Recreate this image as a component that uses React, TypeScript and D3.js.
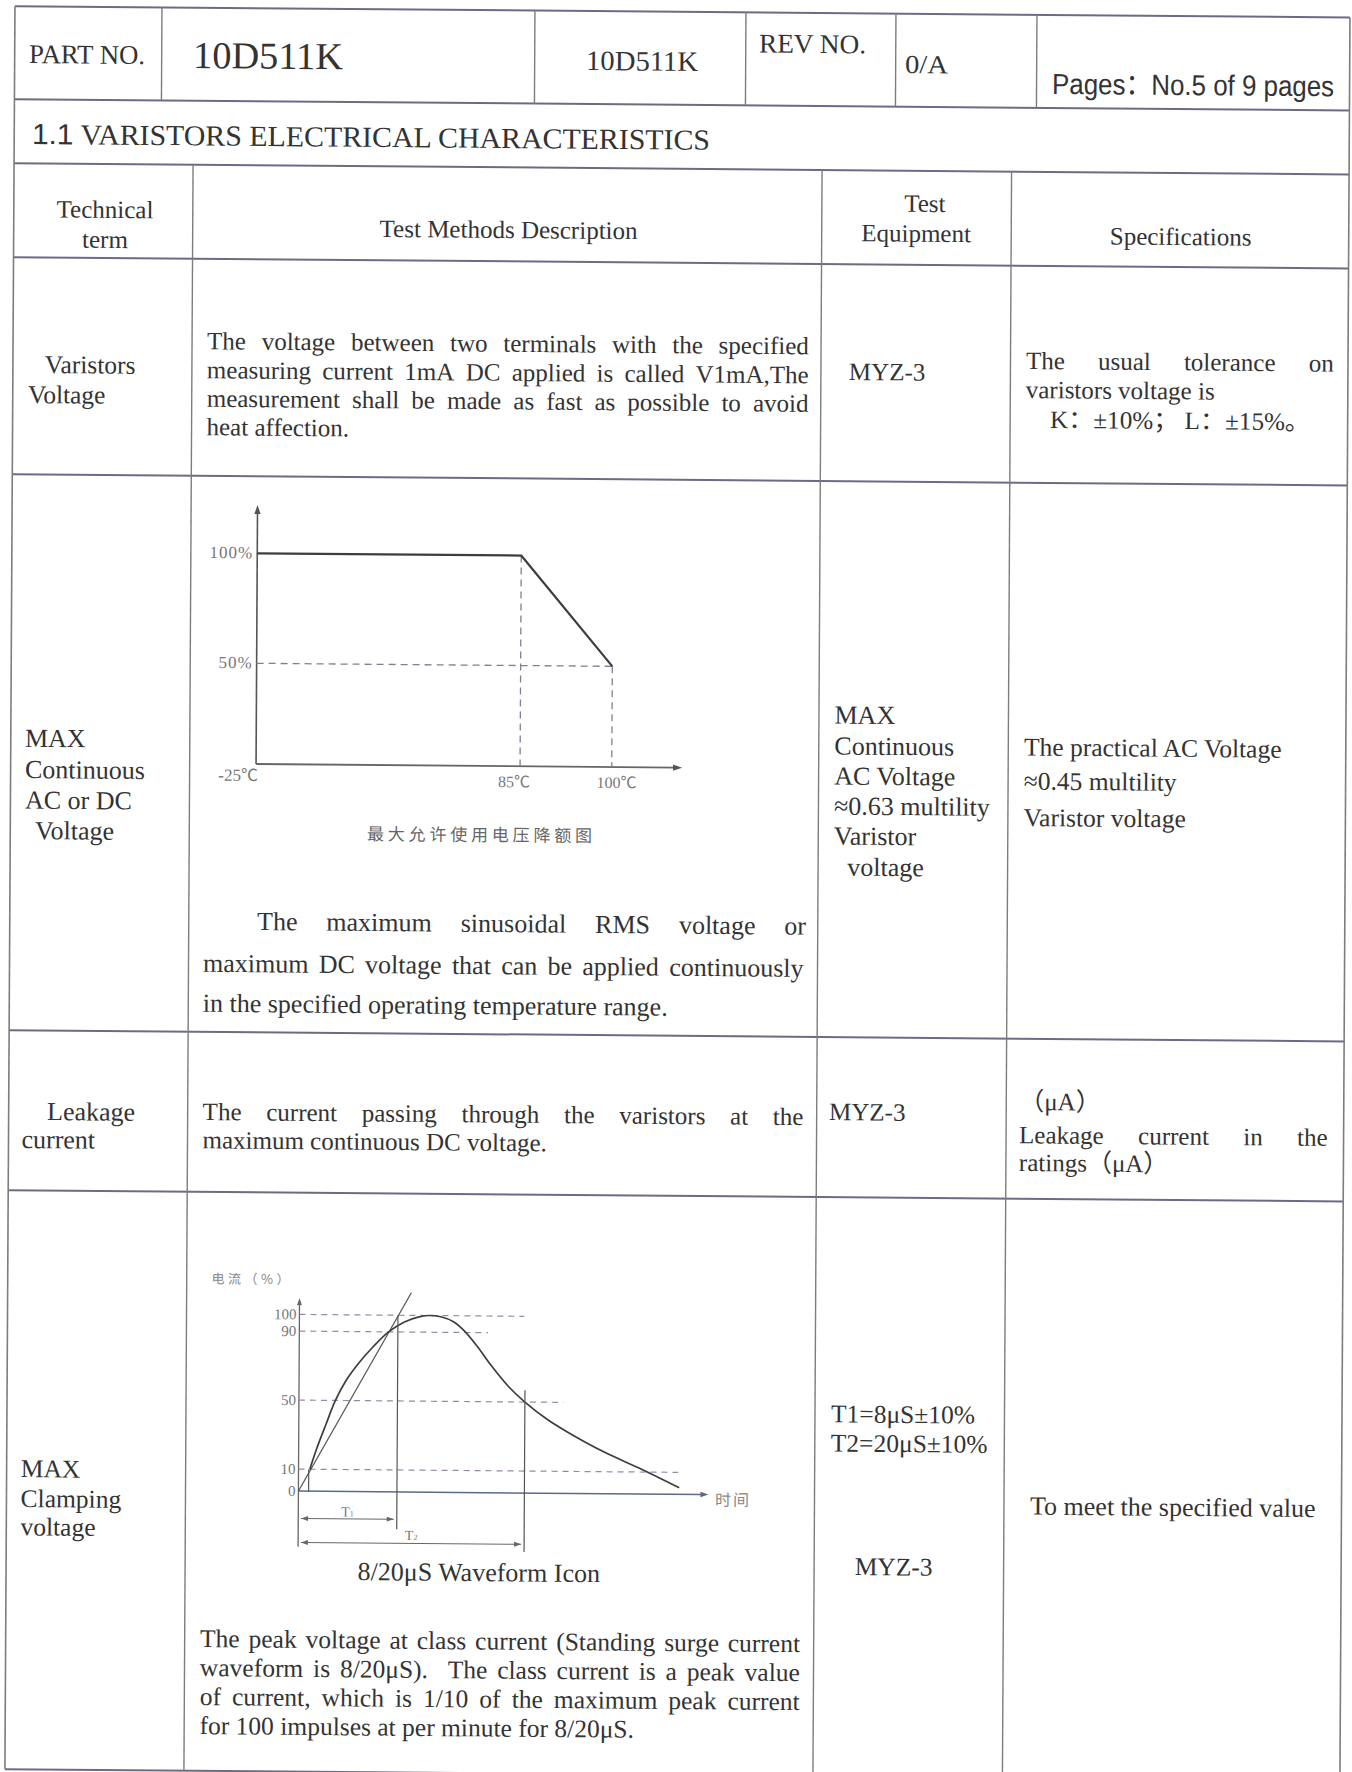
import React from 'react';
import * as d3 from 'd3';

const SERIF = "'Liberation Serif', 'Noto Sans CJK SC', serif";
const SANS = "'Liberation Sans', 'Noto Sans CJK SC', sans-serif";
const CJK = "'Noto Sans CJK SC', sans-serif";
const INK = '#333';
const FAINT = '#777';

// ---- text content ----
const partNo = '10D511K';
const revLabel = 'REV NO.';
const revNo = '0/A';
const pagesLabel = 'Pages：No.5 of 9 pages';
const sectionNo = '1.1';
const sectionTitle = ' VARISTORS ELECTRICAL CHARACTERISTICS';
const colHeads = [['Technical', 'term'], ['Test Methods Description'], ['Test', 'Equipment'], ['Specifications']];
const terms = [['Varistors', 'Voltage'], ['MAX', 'Continuous', 'AC or DC', 'Voltage'], ['Leakage', 'current'], ['MAX', 'Clamping', 'voltage']];

const row1Desc = [
  'The voltage between two terminals with the specified',
  'measuring current 1mA DC applied is called V1mA,The',
  'measurement shall be made as fast as possible to avoid',
  'heat affection.',
];
const equipName = 'MYZ-3';
const row1Spec = ['The usual tolerance on', 'varistors voltage is', 'K：±10%；  L：±15%。'];
const row2Desc = [
  'The maximum sinusoidal RMS voltage or',
  'maximum DC voltage that can be applied continuously',
  'in the specified operating temperature range.',
];
const row2Equip = ['MAX', 'Continuous', 'AC Voltage', '≈0.63  multility', 'Varistor', 'voltage'];
const row2Spec = ['The practical AC Voltage', '≈0.45 multility', 'Varistor voltage'];
const row3Desc = ['The current passing through the varistors at the', 'maximum continuous DC voltage.'];
const row3Spec = ['（μA）', 'Leakage current in the', 'ratings（μA）'];
const row4Desc = [
  'The peak voltage at class current (Standing surge current',
  'waveform is 8/20μS).  The class current is a peak value',
  'of current, which is 1/10 of the maximum peak current',
  'for 100 impulses at per minute for 8/20μS.',
];
const row4Equip = ['T1=8μS±10%', 'T2=20μS±10%'];
const row4Spec = 'To meet the specified value';

// ---- derating chart data ----
const derateTemp = [-25, 85, 100];
const deratePct = [100, 100, 50];
const derateTempLabels = ['-25℃', '85℃', '100℃'];
const deratePctTicks = [100, 50];
const derateCaption = '最大允许使用电压降额图';

// ---- 8/20 waveform data (time in µs, current in %) ----
const waveTime = [1.0, 1.6, 2.4, 3.23, 4.2, 5.3, 6.5, 7.9, 9.3, 10.5, 11.4, 12.5, 13.6, 14.6, 15.7, 17.0, 18.6, 20.0, 22.0, 24.0, 27.0, 30.4, 33.7];
const wavePct = [10, 22, 36, 50, 62, 72, 81, 90, 96, 99, 100, 99.3, 96.5, 91, 82.5, 71, 58.5, 50, 40, 32, 21.5, 11.5, 3];
const waveLevels = [0, 10, 50, 90, 100];
const levelDashEnd = [0, 33.6, 23.4, 16.7, 19.9];
const tangentTime = [0, 9.9];
const tangentPct = [0, 113.6];
const startTime = 0.9;
const t1Time = 8.72;
const t2Time = 20;
const t2TopPct = 56.8;
const waveAxisMax = 36.2;
const waveCaption = '8/20μS Waveform Icon';

// ---- layout ----
const ROWS = [6, 99, 163, 257, 474, 1030, 1190, 1769];
const HEAD_COLS = [162, 535, 746, 896, 1037];
const BODY_COLS = [194, 823, 1012.5];
const LEFT = 15;
const RIGHT = 1350;

const mctx = document.createElement('canvas').getContext('2d');
function textWidth(s: string, size: number, family: string) {
  if (!mctx) return s.length * size * 0.45;
  mctx.font = `${size}px ${family}`;
  return mctx.measureText(s).width;
}

function Txt({ x, y, size = 25, family = SERIF, anchor = 'start', fill = INK, len, ls, children }: any) {
  return (
    <text x={x} y={y} fontSize={size} fontFamily={family} textAnchor={anchor} fill={fill}
      textLength={len} lengthAdjust={len ? 'spacingAndGlyphs' : undefined} letterSpacing={ls}>
      {children}
    </text>
  );
}

// justified line: words spread between x and x2
function JLine({ text, x, x2, y, size = 25, family = SERIF }: any) {
  const words = text.split(' ');
  const widths = words.map((w: string) => textWidth(w, size, family));
  const total = widths.reduce((a: number, b: number) => a + b, 0);
  const gap = words.length > 1 ? (x2 - x - total) / (words.length - 1) : 0;
  let cx = x;
  return (
    <text y={y} fontSize={size} fontFamily={family} fill={INK}>
      {words.map((w: string, i: number) => {
        const el = <tspan key={i} x={cx}>{w}</tspan>;
        cx += widths[i] + gap;
        return el;
      })}
    </text>
  );
}

function Arrow({ x, y, dir, size = 8, fill = '#555' }: any) {
  let d = '';
  if (dir === 'up') d = `M${x},${y} L${x - size * 0.35},${y + size} L${x + size * 0.35},${y + size} Z`;
  if (dir === 'right') d = `M${x},${y} L${x - size},${y - size * 0.35} L${x - size},${y + size * 0.35} Z`;
  if (dir === 'left') d = `M${x},${y} L${x + size},${y - size * 0.35} L${x + size},${y + size * 0.35} Z`;
  return <path d={d} fill={fill} />;
}

function DeratingChart() {
  const u0 = 260.4;
  const v0 = 761.8;
  const x = d3.scaleLinear().domain(derateTemp).range([u0, u0 + 264, u0 + 355.7]);
  const y = d3.scaleLinear().domain([0, 50, 100]).range([v0, v0 - 100.7, v0 - 210.7]);
  const path = d3.line<number>().x((_, i) => x(derateTemp[i])).y((d) => y(d))(deratePct) || '';
  const dash = '7,5';
  const dashColor = '#857c92';
  return (
    <g>
      <line x1={u0} y1={v0} x2={u0} y2={v0 - 255} stroke="#555" strokeWidth={1.6} />
      <Arrow x={u0} y={v0 - 259} dir="up" size={9} />
      <line x1={u0} y1={v0} x2={u0 + 420} y2={v0} stroke="#666" strokeWidth={1.8} />
      <Arrow x={u0 + 426} y={v0} dir="right" size={9} />
      <line x1={u0} x2={x(100)} y1={y(50)} y2={y(50)} stroke={dashColor} strokeWidth={1.3} strokeDasharray={dash} />
      <line x1={x(85)} x2={x(85)} y1={y(100)} y2={v0} stroke={dashColor} strokeWidth={1.3} strokeDasharray={dash} />
      <line x1={x(100)} x2={x(100)} y1={y(50)} y2={v0} stroke={dashColor} strokeWidth={1.3} strokeDasharray={dash} />
      <path d={path} fill="none" stroke="#3d3d3d" strokeWidth={2.2} strokeLinejoin="round" />
      {deratePctTicks.map((p) => (
        <Txt key={p} x={u0 - 4} y={y(p) + 5} size={17} anchor="end" fill={FAINT} ls={1}>{`${p}%`}</Txt>
      ))}
      <Txt x={u0 + 2} y={v0 + 17} size={17} anchor="end" fill={FAINT}>{derateTempLabels[0]}</Txt>
      <Txt x={x(85) - 6} y={v0 + 21} size={16} anchor="middle" fill={FAINT}>{derateTempLabels[1]}</Txt>
      <Txt x={x(100) + 5} y={v0 + 21} size={16} anchor="middle" fill={FAINT}>{derateTempLabels[2]}</Txt>
      <Txt x={371.8} y={836.9} size={17} family={CJK} fill="#666" ls={3.8}>{derateCaption}</Txt>
    </g>
  );
}

function WaveformChart() {
  const u0 = 306.9;
  const v0 = 1488.5;
  const x = d3.scaleLinear().domain([0, waveAxisMax]).range([u0, u0 + 409]);
  const y = d3.scaleLinear().domain(waveLevels).range([v0, v0 - 22, v0 - 91, v0 - 160, v0 - 176.7]);
  const curve = d3.line<number>().x((_, i) => x(waveTime[i])).y((d) => y(d)).curve(d3.curveCatmullRom.alpha(0.5))(wavePct) || '';
  const tangent = d3.line<number>().x((_, i) => x(tangentTime[i])).y((d) => y(d))(tangentPct) || '';
  const dashColor = '#9a86a6';
  const grey = '#666';
  return (
    <g>
      <line x1={u0} y1={v0 + 55.7} x2={u0} y2={v0 - 188} stroke={grey} strokeWidth={1.3} />
      <Arrow x={u0} y={v0 - 193} dir="up" size={7} fill={grey} />
      <line x1={u0} y1={v0} x2={u0 + 404} y2={v0} stroke="#5a6a8a" strokeWidth={1.5} />
      <Arrow x={u0 + 410} y={v0} dir="right" size={8} fill="#5a6a8a" />
      {waveLevels.map((lv, i) =>
        lv === 0 ? null : (
          <line key={lv} x1={u0} x2={x(levelDashEnd[i])} y1={y(lv)} y2={y(lv)} stroke={dashColor}
            strokeWidth={1.2} strokeDasharray="6,5" />
        ),
      )}
      {waveLevels.map((lv) => (
        <Txt key={lv} x={u0 - 3} y={y(lv) + 5} size={15} anchor="end" fill={FAINT}>{String(lv)}</Txt>
      ))}
      <path d={tangent} fill="none" stroke="#555" strokeWidth={1.1} />
      <path d={curve} fill="none" stroke="#3d3d3d" strokeWidth={1.7} />
      <line x1={x(startTime)} x2={x(startTime)} y1={y(0)} y2={y(10)} stroke="#555" strokeWidth={1.2} />
      <line x1={x(t1Time)} x2={x(t1Time)} y1={y(100)} y2={v0 + 37.3} stroke="#555" strokeWidth={1.2} />
      <line x1={x(t2Time)} x2={x(t2Time)} y1={y(t2TopPct)} y2={v0 + 59} stroke="#555" strokeWidth={1.2} />
      <line x1={x(0.25)} x2={x(t1Time) - 3} y1={v0 + 27.3} y2={v0 + 27.3} stroke="#666" strokeWidth={1.1} />
      <Arrow x={x(0.25)} y={v0 + 27.3} dir="left" size={7} fill="#666" />
      <Arrow x={x(t1Time) - 3} y={v0 + 27.3} dir="right" size={7} fill="#666" />
      <line x1={x(0.25)} x2={x(t2Time) - 3} y1={v0 + 51.3} y2={v0 + 51.3} stroke="#666" strokeWidth={1.1} />
      <Arrow x={x(0.25)} y={v0 + 51.3} dir="left" size={7} fill="#666" />
      <Arrow x={x(t2Time) - 3} y={v0 + 51.3} dir="right" size={7} fill="#666" />
      <text x={x(t1Time / 2)} y={v0 + 25} fontSize={14} fontFamily={SERIF} fill={FAINT} textAnchor="middle">
        T<tspan fontSize={8}>1</tspan>
      </text>
      <text x={x(t2Time / 2)} y={v0 + 48} fontSize={14} fontFamily={SERIF} fill={FAINT} textAnchor="middle">
        T<tspan fontSize={8}>2</tspan>
      </text>
      <Txt x={u0 - 88} y={v0 - 207} size={13} family={CJK} fill="#888" ls={3.5}>电流（%）</Txt>
      <Txt x={u0 + 416.7} y={v0 + 11} size={16} family={CJK} fill="#888" ls={2}>时间</Txt>
      <Txt x={366.5} y={1577} size={26}>{waveCaption}</Txt>
    </g>
  );
}

export default function App() {
  const hStroke = '#6e6a86';
  const vStroke = '#7d7d7d';
  return (
    <svg width={1352} height={1772} style={{ position: 'absolute', left: 0, top: 0, display: 'block', background: '#fff' }}>
      <rect width={1352} height={1772} fill="#fff" />
      <g transform="matrix(1,0.0085,-0.0057,1,0,0)">
        {ROWS.map((v) => (
          <line key={v} x1={LEFT} x2={RIGHT} y1={v} y2={v} stroke={hStroke} strokeWidth={2} />
        ))}
        <line x1={LEFT} x2={LEFT} y1={ROWS[0]} y2={ROWS[7]} stroke={vStroke} strokeWidth={1.6} />
        <line x1={RIGHT} x2={RIGHT} y1={ROWS[0]} y2={ROWS[7]} stroke={vStroke} strokeWidth={1.6} />
        {HEAD_COLS.map((u) => (
          <line key={u} x1={u} x2={u} y1={ROWS[0]} y2={ROWS[1]} stroke={vStroke} strokeWidth={1.4} />
        ))}
        {BODY_COLS.map((u) => (
          <line key={u} x1={u} x2={u} y1={ROWS[2]} y2={ROWS[7]} stroke={vStroke} strokeWidth={1.4} />
        ))}

        {/* header */}
        <Txt x={29.4} y={62.8} size={27} len={116}>PART NO.</Txt>
        <Txt x={193.4} y={66.4} size={38} len={150}>{partNo}</Txt>
        <Txt x={586.4} y={65} size={28} len={112}>{partNo}</Txt>
        <Txt x={759.3} y={46} size={27} len={107}>{revLabel}</Txt>
        <Txt x={905.4} y={65.3} size={26} len={43}>{revNo}</Txt>
        <Txt x={1052.5} y={85} size={29} family={SANS} len={282}>{pagesLabel}</Txt>
        <text x={32.8} y={143.7} fontSize={29} fill={INK} textLength={678} lengthAdjust="spacingAndGlyphs">
          <tspan fontFamily={SANS}>{sectionNo}</tspan>
          <tspan fontFamily={SERIF}>{sectionTitle}</tspan>
        </text>

        {/* column heads */}
        <Txt x={106.2} y={217} anchor="middle">{colHeads[0][0]}</Txt>
        <Txt x={106.4} y={247} anchor="middle">{colHeads[0][1]}</Txt>
        <Txt x={509.9} y={233.7} anchor="middle">{colHeads[1][0]}</Txt>
        <Txt x={926} y={204} anchor="middle">{colHeads[2][0]}</Txt>
        <Txt x={917.4} y={234} anchor="middle">{colHeads[2][1]}</Txt>
        <Txt x={1181.9} y={235} anchor="middle">{colHeads[3][0]}</Txt>

        {/* row 1 */}
        <Txt x={47} y={372.6} size={25.5}>{terms[0][0]}</Txt>
        <Txt x={30.3} y={402.8} size={25.5}>{terms[0][1]}</Txt>
        {row1Desc.map((t, i) =>
          i < row1Desc.length - 1 ? (
            <JLine key={i} text={t} x={209} x2={810.8} y={[347.5, 376.5, 405][i]} />
          ) : (
            <Txt key={i} x={209} y={433.5}>{t}</Txt>
          ),
        )}
        <Txt x={851} y={372.8}>{equipName}</Txt>
        <JLine text={row1Spec[0]} x={1028} x2={1335.7} y={360.3} />
        <Txt x={1028} y={389.3}>{row1Spec[1]}</Txt>
        <Txt x={1052.4} y={419} len={260}>{row1Spec[2]}</Txt>

        {/* row 2 */}
        {terms[1].map((t, i) => (
          <Txt key={i} x={[29.2, 29.4, 29.6, 39.8][i]} y={[746.5, 777.8, 808.3, 838.8][i]} size={26}>{t}</Txt>
        ))}
        <DeratingChart />
        <JLine text={row2Desc[0]} x={262.3} x2={811.3} y={927.8} size={26} />
        <JLine text={row2Desc[1]} x={208.5} x2={809} y={970} size={26} />
        <Txt x={208.5} y={1010} size={26}>{row2Desc[2]}</Txt>
        {row2Equip.map((t, i) => (
          <Txt key={i} x={i === 5 ? 852.3 : 838.6} y={[716.4, 747.4, 777.4, 807.4, 837.4, 868.4][i]} size={26}>{t}</Txt>
        ))}
        {row2Spec.map((t, i) => (
          <Txt key={i} x={1028.2} y={[746.8, 780.8, 817.3][i]} size={25.5}>{t}</Txt>
        ))}

        {/* row 3 */}
        <Txt x={53.4} y={1119.6} size={26}>{terms[2][0]}</Txt>
        <Txt x={28} y={1147.8} size={26}>{terms[2][1]}</Txt>
        <JLine text={row3Desc[0]} x={209} x2={809.8} y={1118.3} />
        <Txt x={209} y={1146.6}>{row3Desc[1]}</Txt>
        <Txt x={835.4} y={1113}>{equipName}</Txt>
        <Txt x={1025.5} y={1101.3}>{row3Spec[0]}</Txt>
        <JLine text={row3Spec[1]} x={1025.5} x2={1334} y={1134.6} />
        <Txt x={1025.5} y={1162.3}>{row3Spec[2]}</Txt>

        {/* row 4 */}
        {terms[3].map((t, i) => (
          <Txt key={i} x={29.2} y={[1476.8, 1506.8, 1535.1][i]} size={25.5}>{t}</Txt>
        ))}
        <WaveformChart />
        {row4Desc.map((t, i) =>
          i < row4Desc.length - 1 ? (
            <JLine key={i} text={t} x={209.4} x2={809.4} y={[1645.3, 1674.3, 1703.3][i]} size={25.5} />
          ) : (
            <Txt key={i} x={209.4} y={1732.3} size={25.5}>{t}</Txt>
          ),
        )}
        <Txt x={839} y={1415.2} size={25.5}>{row4Equip[0]}</Txt>
        <Txt x={839} y={1444.4} size={25.5}>{row4Equip[1]}</Txt>
        <Txt x={863.6} y={1567.7} size={25.5}>{equipName}</Txt>
        <Txt x={1038.6} y={1505.8} size={26}>{row4Spec}</Txt>
      </g>
    </svg>
  );
}
